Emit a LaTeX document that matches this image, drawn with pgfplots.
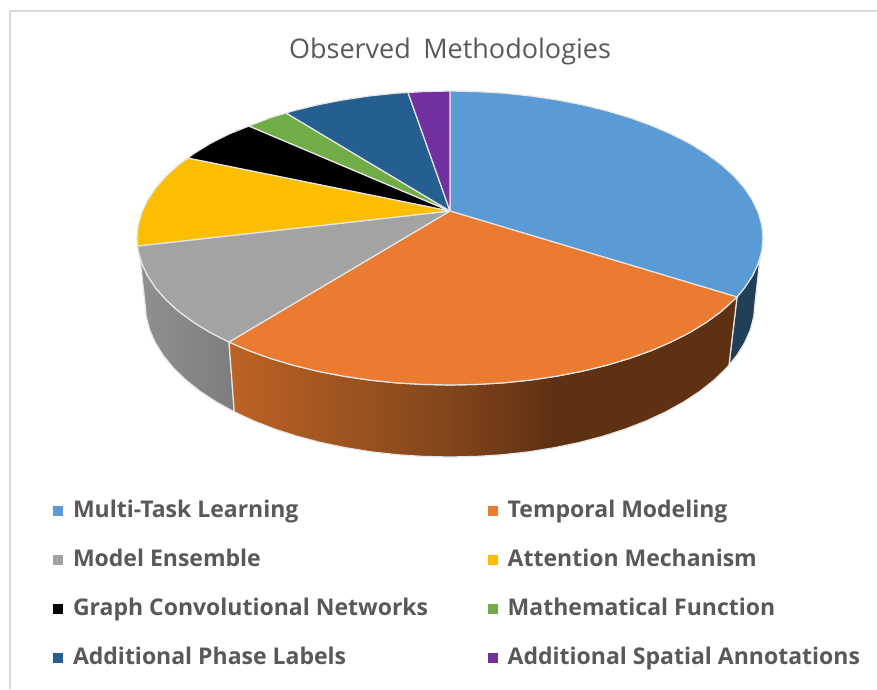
\documentclass[border=0pt]{standalone}
\usepackage{fontspec}
\setmainfont{Open Sans}
\usepackage{pgfplots}
\pgfplotsset{compat=1.18}
\definecolor{cBlue}{HTML}{5B9BD5}
\definecolor{cOrange}{HTML}{EB7B30}
\definecolor{cGray}{HTML}{A3A3A3}
\definecolor{cYellow}{HTML}{FBBE00}
\definecolor{cGreen}{HTML}{70AD47}
\definecolor{cDark}{HTML}{255E91}
\definecolor{cPurple}{HTML}{7030A0}
\definecolor{cNavy}{HTML}{223F58}
\definecolor{cEdge}{HTML}{E6E6E6}
\definecolor{cFrame}{HTML}{D9D9D9}
\definecolor{cText}{HTML}{595959}
\definecolor{oA}{HTML}{BC6424}
\definecolor{oB}{HTML}{82451C}
\definecolor{oC}{HTML}{5E3112}
\definecolor{gA}{HTML}{909090}
\definecolor{gB}{HTML}{7D7D7D}
\pgfdeclarehorizontalshading{orangeside}{100bp}{color(0bp)=(oA); color(25bp)=(oA); color(46.7bp)=(oB); color(57bp)=(oC); color(100bp)=(oC)}
\pgfdeclarehorizontalshading{grayside}{100bp}{color(0bp)=(gA); color(25bp)=(gA); color(75bp)=(gB); color(100bp)=(gB)}
\begin{document}
\begin{tikzpicture}
\begin{axis}[
  width=877pt, height=689pt, scale only axis,
  xmin=0, xmax=877, ymin=0, ymax=689, y dir=reverse,
  axis lines=none, no markers, clip=true,
  legend columns=2,
  legend cell align=left,
  legend image code/.code={\path[#1,draw=none] (0pt,-5pt) rectangle (10pt,5pt); \path[draw=none,fill=none] (0pt,0pt) -- (20pt,0pt);},
  legend style={at={(axis cs:53,499)}, anchor=north west, draw=none, fill=none,
    inner sep=0pt, outer sep=0pt, row sep=25pt, text=cText,
    font=\fontsize{23}{27}\selectfont\bfseries,
    /tikz/every even column/.append style={column sep=59.5pt},
    nodes={inner sep=0pt, text height=18pt, text depth=6pt}},
]
% background and frame
\addplot[forget plot, draw=none, fill=white] coordinates {(0,0)(877,0)(877,689)(0,689)(0,0)};
\addplot[forget plot, draw=cFrame, line width=2pt] coordinates {(10,689)(10,11)(877,11)};

% side walls
\addplot[forget plot, draw=cEdge, line width=1.2pt, fill=cNavy] coordinates {
(760,258)(758.2,263.5)(752.3,276)(744.1,288.3)(737,297)(729,365)
(736.6,355.7)(744.6,342.9)(750.4,329.7)(753.8,316.4)(755,303)(760,258)};
\addplot[forget plot, draw=cEdge, line width=1.2pt, shade, shading=grayside] coordinates {
(229,342)(210.2,332.5)(193.6,322.3)(178.9,311.5)(166.3,300.1)(155.9,288.3)(147.7,276)(141.8,263.5)(140,258)
(145,303)(146.2,316.4)(149.6,329.7)(155.4,342.9)(163.4,355.7)(173.6,368.1)(185.9,380)(200.1,391.3)(216.4,402)(234.3,411.9)(229,342)};
\addplot[forget plot, draw=cEdge, line width=1.2pt, shade, shading=orangeside] coordinates {
(737,297)(733.7,300.1)(721.1,311.5)(706.4,322.3)(689.8,332.5)(671.3,341.9)(651.2,350.6)(629.5,358.4)(606.5,365.3)(582.3,371.2)(557,376.1)(531,380)(504.3,382.8)(477.3,384.4)(450,385)(422.7,384.4)(395.7,382.8)(369,380)(343,376.1)(317.7,371.2)(293.5,365.3)(270.5,358.4)(248.8,350.6)(229,342)
(234.3,411.9)(253.9,421)(275.1,429.2)(297.5,436.4)(321.1,442.6)(345.7,447.7)(371.1,451.8)(397.1,454.7)(423.4,456.4)(450,457)(476.6,456.4)(502.9,454.7)(528.9,451.8)(554.3,447.7)(578.9,442.6)(602.5,436.4)(624.9,429.2)(646.1,421)(665.7,411.9)(683.6,402)(699.9,391.3)(714.1,380)(726.4,368.1)(729,365)(737,297)};

% top face sectors
\addplot[draw=cEdge, line width=1.2pt, fill=cBlue] coordinates {
(450,211)(450,91)(477.3,91.6)(504.3,93.2)(531,96)(557,99.9)(582.3,104.8)(606.5,110.7)(629.5,117.6)(651.2,125.4)(671.3,134.1)(689.8,143.5)(706.4,153.7)(721.1,164.5)(733.7,175.9)(744.1,187.7)(752.3,200)(758.2,212.5)(761.8,225.2)(763,238)(761.8,250.8)(758.2,263.5)(752.3,276)(744.1,288.3)(737,297)(450,211)};
\addlegendentry{Multi-Task Learning}
\addplot[draw=cEdge, line width=1.2pt, fill=cOrange] coordinates {
(450,211)(737,297)(733.7,300.1)(721.1,311.5)(706.4,322.3)(689.8,332.5)(671.3,341.9)(651.2,350.6)(629.5,358.4)(606.5,365.3)(582.3,371.2)(557,376.1)(531,380)(504.3,382.8)(477.3,384.4)(450,385)(422.7,384.4)(395.7,382.8)(369,380)(343,376.1)(317.7,371.2)(293.5,365.3)(270.5,358.4)(248.8,350.6)(229,342)(450,211)};
\addlegendentry{Temporal Modeling}
\addplot[draw=cEdge, line width=1.2pt, fill=cGray] coordinates {
(450,211)(229,342)(210.2,332.5)(193.6,322.3)(178.9,311.5)(166.3,300.1)(155.9,288.3)(147.7,276)(141.8,263.5)(138.2,250.8)(137.5,246)(450,211)};
\addlegendentry{Model Ensemble}
\addplot[draw=cEdge, line width=1.2pt, fill=cYellow] coordinates {
(450,211)(137.5,246)(137,238)(138.2,225.2)(141.8,212.5)(147.7,200)(155.9,187.7)(166.3,175.9)(178.9,164.5)(188,158)(450,211)};
\addlegendentry{Attention Mechanism}
\addplot[draw=cEdge, line width=1.2pt, fill=black] coordinates {
(450,211)(188,158)(193.6,153.7)(210.2,143.5)(228.7,134.1)(249,126)(450,211)};
\addlegendentry{Graph Convolutional Networks}
\addplot[draw=cEdge, line width=1.2pt, fill=cGreen] coordinates {
(450,211)(249,126)(270.5,117.6)(286,113)(450,211)};
\addlegendentry{Mathematical Function}
\addplot[draw=cEdge, line width=1.2pt, fill=cDark] coordinates {
(450,211)(286,113)(293.5,110.7)(317.7,104.8)(343,99.9)(369,96)(395.7,93.2)(408,92.5)(450,211)};
\addlegendentry{Additional Phase Labels}
\addplot[draw=cEdge, line width=1.2pt, fill=cPurple] coordinates {
(450,211)(408,92.5)(422.7,91.6)(450,91)(450,211)};
\addlegendentry{Additional Spatial Annotations}

\node[text=cText, font=\fontsize{27}{32}\selectfont] at (axis cs:450,51) {Observed\hspace{0.2em} Methodologies};
\end{axis}
\end{tikzpicture}
\end{document}
